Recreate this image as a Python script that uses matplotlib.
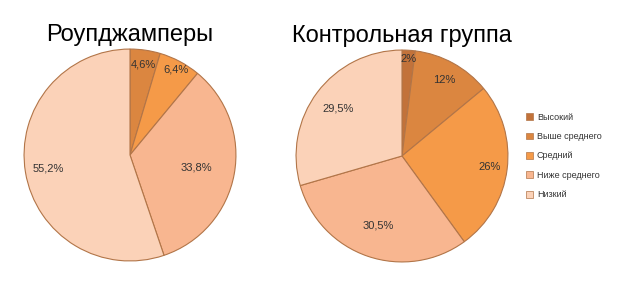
import numpy as np
import matplotlib.pyplot as plt
from matplotlib.patches import Patch

plt.rcParams['font.family'] = ['Liberation Sans', 'DejaVu Sans']

# Data
categories = ['Высокий', 'Выше среднего', 'Средний', 'Ниже среднего', 'Низкий']
colors = ['#C2723A', '#DB8640', '#F59A48', '#F8B690', '#FBD2B8']
rope_values = [0, 4.6, 6.4, 33.8, 55.2]
control_values = [2, 12, 26, 30.5, 29.5]
rope_labels = ['', '4,6%', '6,4%', '33,8%', '55,2%']
control_labels = ['2%', '12%', '26%', '30,5%', '29,5%']

# label distance per slice (fraction of radius), as placed in the original
rope_dist = [0.85, 0.86, 0.92, 0.64, 0.78]
control_dist = [0.92, 0.82, 0.83, 0.69, 0.75]


def draw_pie(ax, values, labels, dists, title):
    wedges, _ = ax.pie(values, colors=colors, startangle=90, counterclock=False,
                       wedgeprops=dict(edgecolor='#B27548', linewidth=0.8))
    for w, lab, d in zip(wedges, labels, dists):
        if not lab:
            continue
        ang = np.deg2rad((w.theta1 + w.theta2) / 2)
        ax.text(d * np.cos(ang), d * np.sin(ang), lab, ha='center', va='center',
                fontsize=8, color='#333333')
    ax.set_xlim(-1.01, 1.01)
    ax.set_ylim(-1.01, 1.01)
    ax.set_aspect('equal')
    ax.set_title(title, fontsize=17, pad=5)


fig = plt.figure(figsize=(6.24, 2.93), dpi=100)
W, H = 624, 293
ax1 = fig.add_axes([23 / W, 31 / H, 214 / W, 214 / H])
ax2 = fig.add_axes([295 / W, 30 / H, 214 / W, 214 / H])

draw_pie(ax1, rope_values, rope_labels, rope_dist, 'Роупджамперы')
draw_pie(ax2, control_values, control_labels, control_dist, 'Контрольная группа')

handles = [Patch(facecolor=c, edgecolor='#B27548', linewidth=0.5) for c in colors]
fig.legend(handles, categories, loc='center left', bbox_to_anchor=(518 / W, 1 - 156 / H),
           frameon=False, fontsize=6.5, handlelength=0.8, handleheight=0.8,
           handletextpad=0.4, labelspacing=1.15, labelcolor='#333333')

fig.savefig('out.png', dpi=100, facecolor='white')
